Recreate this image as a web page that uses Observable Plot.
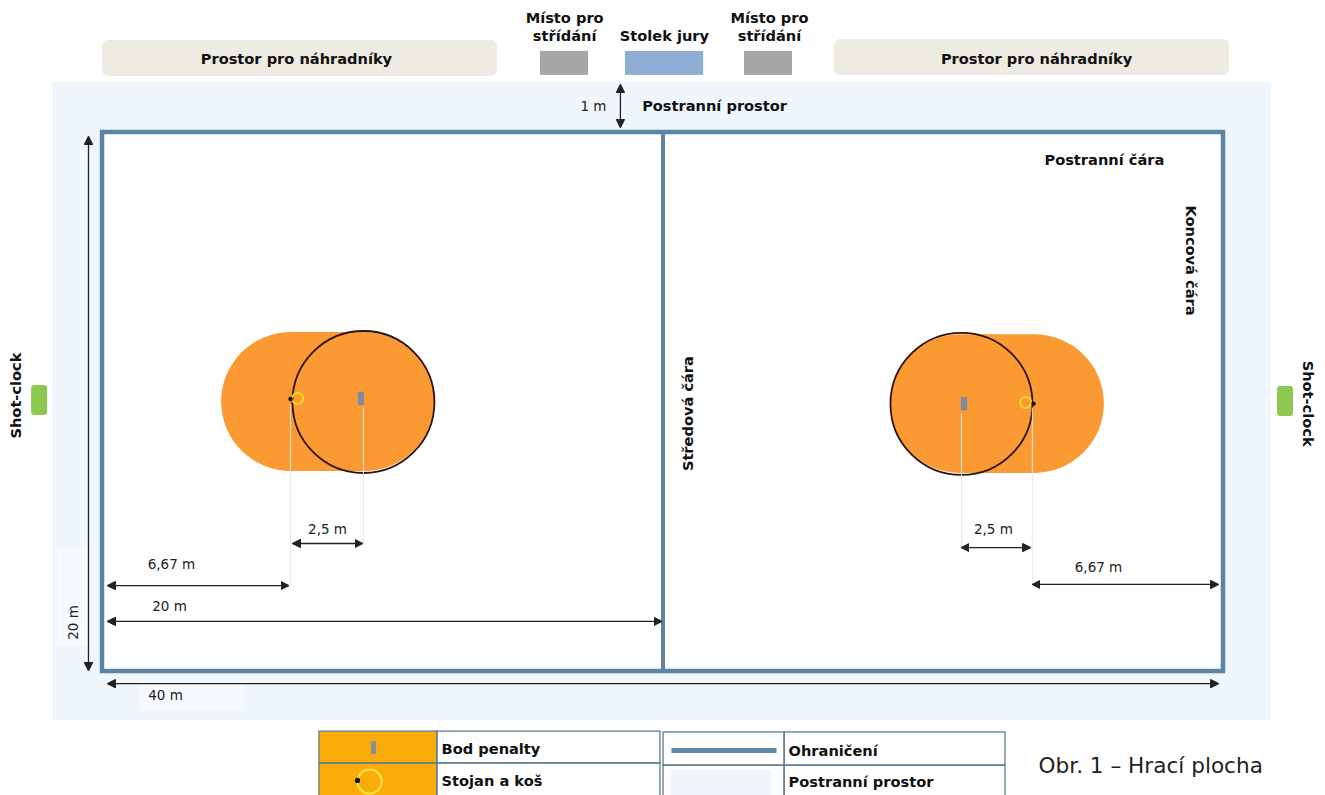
<!DOCTYPE html>
<html lang="cs">
<head>
<meta charset="utf-8">
<style>html,body{margin:0;padding:0;background:#fff;overflow:hidden}svg{display:block}</style>
<script src="https://cdn.jsdelivr.net/npm/d3@7"></script>
<script src="https://cdn.jsdelivr.net/npm/@observablehq/plot@0.6"></script>
</head>
<body>
<div id="chart"></div>
<script>
// All positions are in metres on the playing area (0–40 m along, 0–20 m across).
const sideSpace    = [{x1:-1.78,x2:41.71,y1:-1.855,y2:21.82}];
const whitePatches = [{x1:-1.57,x2:-0.43,y1:15.44,y2:19.04},{x1:1.36,x2:5.03,y1:20.52,y2:21.41}];
const court        = [{x1:0,x2:40,y1:0,y2:20}];
const midline      = [{x:20,y1:0,y2:20}];
const benches      = [{x1:0,x2:14.09,y1:-3.41,y2:-2.08},{x1:26.12,x2:40.21,y1:-3.45,y2:-2.115}];
const subAreas     = [{x1:15.63,x2:17.34,y1:-3.01,y2:-2.12},{x1:22.91,x2:24.62,y1:-3.01,y2:-2.12}];
const juryTable    = [{x1:18.66,x2:21.45,y1:-3.01,y2:-2.12}];
const shotClocks   = [{x1:-2.53,x2:-1.96,y1:9.39,y2:10.5},{x1:41.93,x2:42.5,y1:9.42,y2:10.54}];
const zones        = [{x1:4.25,x2:11.85,y1:7.42,y2:12.58},{x1:28.12,x2:35.75,y1:7.50,y2:12.65}];
const circles      = [{x:9.31,y:10.0},{x:30.65,y:10.07}];
const penaltySpots = [{x1:9.13,x2:9.35,y1:9.65,y2:10.13},{x1:30.65,x2:30.87,y1:9.83,y2:10.32}];
const stands       = [{x:6.71,y:9.89},{x:33.22,y:10.06}];
const hoops        = [{x:6.96,y:9.87},{x:32.94,y:10.02}];
const guides       = [
  {x1:6.71,x2:6.71,y1:10.1,y2:16.81},{x1:9.31,x2:9.31,y1:10.2,y2:15.25},
  {x1:30.65,x2:30.65,y1:10.4,y2:15.40},{x1:33.18,x2:33.18,y1:10.2,y2:16.77}
];
const dimensions   = [
  {x1:18.48,x2:18.48,y1:-1.78,y2:-0.19},{x1:-0.5,x2:-0.5,y1:0.15,y2:19.96},
  {x1:0.18,x2:39.82,y1:20.45,y2:20.45},{x1:0.18,x2:19.95,y1:18.14,y2:18.14},
  {x1:0.18,x2:6.64,y1:16.81,y2:16.81},{x1:6.78,x2:9.28,y1:15.25,y2:15.25},
  {x1:30.65,x2:33.11,y1:15.40,y2:15.40},{x1:33.18,x2:39.82,y1:16.77,y2:16.77}
];
const boldLabels   = [
  {t:"Prostor pro náhradníky",x:6.92,y:-2.71},{t:"Prostor pro náhradníky",x:33.33,y:-2.71},
  {t:"Místo pro",x:16.49,y:-4.23},{t:"střídání",x:16.49,y:-3.56},
  {t:"Místo pro",x:23.80,y:-4.23},{t:"střídání",x:23.80,y:-3.56},
  {t:"Stolek jury",x:20.05,y:-3.56},{t:"Postranní prostor",x:21.84,y:-0.96},
  {t:"Postranní čára",x:35.75,y:1.04}
];
const boldUp       = [{t:"Shot-clock",x:-3.07,y:9.76},{t:"Středová čára",x:20.91,y:10.43}];
const boldDown     = [{t:"Koncová čára",x:38.82,y:4.75},{t:"Shot-clock",x:43.0,y:10.06}];
const plainLabels  = [
  {t:"1 m",x:17.52,y:-0.96},{t:"2,5 m",x:8.03,y:14.73},{t:"2,5 m",x:31.79,y:14.73},
  {t:"6,67 m",x:2.46,y:16.03},{t:"6,67 m",x:35.54,y:16.14},{t:"20 m",x:2.39,y:17.59},{t:"40 m",x:2.25,y:20.89}
];
const plainUp      = [{t:"20 m",x:-1.03,y:18.18}];
// legend
const legendOrange = [{x1:7.74,x2:11.95,y1:22.23,y2:24.79}];
const legendCells  = [
  {x1:7.74,x2:11.95,y1:22.23,y2:23.41},{x1:11.95,x2:19.91,y1:22.23,y2:23.41},
  {x1:7.74,x2:11.95,y1:23.41,y2:24.79},{x1:11.95,x2:19.91,y1:23.41,y2:24.79},
  {x1:20.02,x2:24.34,y1:22.26,y2:23.49},{x1:24.34,x2:32.22,y1:22.26,y2:23.49},
  {x1:20.02,x2:24.34,y1:23.49,y2:24.79},{x1:24.34,x2:32.22,y1:23.49,y2:24.79}
];
const legendSpot   = [{x1:9.60,x2:9.78,y1:22.6,y2:23.08}];
const legendStand  = [{x:9.10,y:24.04}];
const legendHoop   = [{x:9.53,y:24.08}];
const legendLine   = [{x1:20.30,x2:24.05,y1:22.93,y2:22.93}];
const legendSwatch = [{x1:20.30,x2:23.87,y1:23.67,y2:24.6}];
const legendLabels = [
  {t:"Bod penalty",x:12.10,y:22.89},{t:"Stojan a koš",x:12.10,y:24.08},
  {t:"Ohraničení",x:24.48,y:22.97},{t:"Postranní prostor",x:24.48,y:24.12}
];
const caption      = [{t:"Obr. 1 – Hrací plocha",x:33.40,y:23.49}];

// Solid triangular arrowhead for the dimension lines.
function solidHead(color, context) {
  const ns = "http://www.w3.org/2000/svg";
  const marker = context.document.createElementNS(ns, "marker");
  marker.setAttribute("viewBox", "-8 -4.5 9 9");
  marker.setAttribute("markerWidth", 9);
  marker.setAttribute("markerHeight", 9);
  marker.setAttribute("markerUnits", "userSpaceOnUse");
  marker.setAttribute("orient", "auto-start-reverse");
  const head = context.document.createElementNS(ns, "path");
  head.setAttribute("d", "M-8,-4L0,0L-8,4Z");
  head.setAttribute("fill", color);
  marker.appendChild(head);
  return marker;
}

const box = {x1:"x1",x2:"x2",y1:"y1",y2:"y2"};
const txt = {x:"x",y:"y",text:"t",fill:"#111",fontFamily:"DejaVu Sans"};
const bold = 14.6;
const chart = Plot.plot({
  width:1325,height:795,margin:0,
  style:{background:"#fff",overflow:"hidden"},
  x:{axis:null,domain:[-3.64,43.64],range:[0,1325]},
  y:{axis:null,domain:[-4.898,24.6],range:[0,795]},
  marks:[
    Plot.rect(sideSpace,{...box,fill:"#eff7fd"}),
    Plot.rect(whitePatches,{...box,fill:"#f6fafe",stroke:"#fcfdff",strokeWidth:1}),
    Plot.rect(benches,{...box,fill:"#eeebe2",rx:6}),
    Plot.rect(subAreas,{...box,fill:"#a6a6a6"}),
    Plot.rect(juryTable,{...box,fill:"#8fadd4"}),
    Plot.rect(shotClocks,{...box,fill:"#8dc850",rx:3}),
    Plot.rect(court,{...box,fill:"#fff",stroke:"#5d84a3",strokeWidth:4.5}),
    Plot.ruleX(midline,{x:"x",y1:"y1",y2:"y2",stroke:"#5d84a3",strokeWidth:4}),
    Plot.rect(zones,{...box,fill:"#fb9933",rx:70}),
    Plot.dot(circles,{x:"x",y:"y",r:71,stroke:"#2b1410",strokeWidth:1.8,fill:"none"}),
    Plot.link(guides,{...box,stroke:"#e8e8e8",strokeWidth:1}),
    Plot.rect(penaltySpots,{...box,fill:"#7f8aa3"}),
    Plot.dot(hoops,{x:"x",y:"y",r:5.5,stroke:"#f3da22",strokeWidth:2,fill:"none"}),
    Plot.dot(stands,{x:"x",y:"y",r:2.2,fill:"#111"}),
    Plot.link(dimensions,{...box,stroke:"#222",strokeWidth:1.3,markerStart:solidHead,markerEnd:solidHead}),
    Plot.text(boldLabels,{...txt,fontSize:bold,fontWeight:"bold"}),
    Plot.text(boldUp,{...txt,fontSize:bold,fontWeight:"bold",rotate:-90}),
    Plot.text(boldDown,{...txt,fontSize:bold,fontWeight:"bold",rotate:90}),
    Plot.text(plainLabels,{...txt,fontSize:13.5,fill:"#222"}),
    Plot.text(plainUp,{...txt,fontSize:13.5,fill:"#222",rotate:-90}),
    // legend
    Plot.rect(legendOrange,{...box,fill:"#f9ac0a"}),
    Plot.rect(legendCells,{...box,fill:"none",stroke:"#5d7f8f",strokeWidth:1.3}),
    Plot.rect(legendSpot,{...box,fill:"#8a8f96"}),
    Plot.dot(legendHoop,{x:"x",y:"y",r:12,stroke:"#f7e64b",strokeWidth:2,fill:"none"}),
    Plot.dot(legendStand,{x:"x",y:"y",r:2.6,fill:"#111"}),
    Plot.link(legendLine,{...box,stroke:"#5f88a8",strokeWidth:5}),
    Plot.rect(legendSwatch,{...box,fill:"#f1f6fc"}),
    Plot.text(legendLabels,{...txt,fontSize:bold,fontWeight:"bold",textAnchor:"start"}),
    Plot.text(caption,{...txt,fontSize:21.6,textAnchor:"start",fill:"#222"})
  ]
});
document.getElementById("chart").appendChild(chart);
</script>
</body>
</html>
